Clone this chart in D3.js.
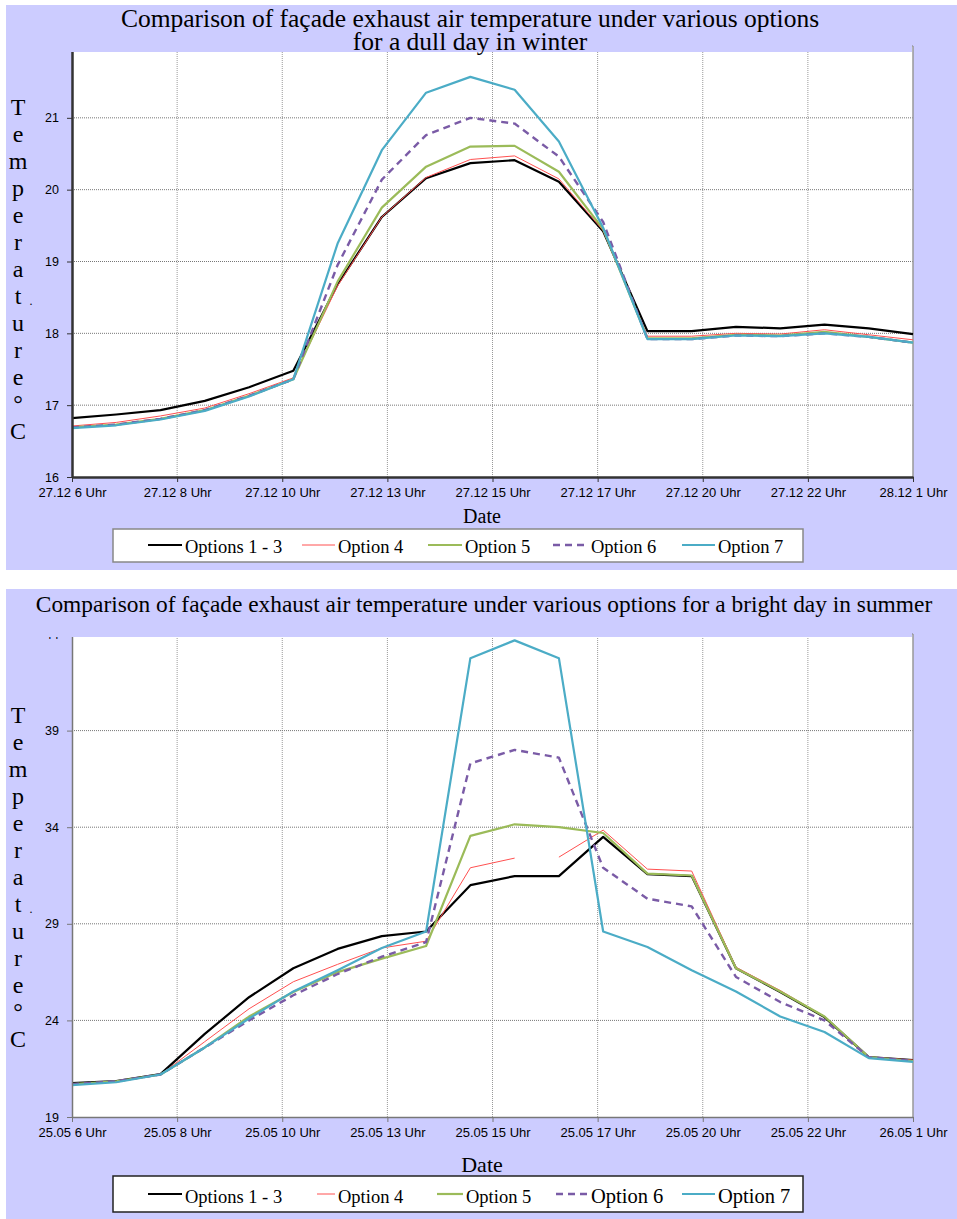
<!DOCTYPE html>
<html>
<head>
<meta charset="utf-8">
<script src="https://cdn.jsdelivr.net/npm/d3@7"></script>
<style>
  body { margin: 0; background: #fff; }
  text { font-family: "Liberation Serif", "Times New Roman", serif; }
  .tick text { font-family: "Liberation Sans", Arial, sans-serif; }
</style>
</head>
<body>
<div id="chart"></div>
<script>
// series names shown in the legends
const seriesNames = ["Options 1 - 3", "Option 4", "Option 5", "Option 6", "Option 7"];

// hourly readings, 6 Uhr to 1 Uhr next day
const hourOffsets = d3.range(20);

// dull day in winter (27.12)
const winterOpt13 = [16.82, 16.87, 16.93, 17.06, 17.25, 17.48, 18.68, 19.62, 20.16, 20.37, 20.41, 20.11, 19.42, 18.03, 18.03, 18.09, 18.07, 18.12, 18.07, 17.99];
const winterOpt4  = [16.71, 16.76, 16.85, 16.96, 17.16, 17.38, 18.66, 19.62, 20.17, 20.42, 20.47, 20.15, 19.43, 17.96, 17.96, 18.00, 17.99, 18.05, 17.98, 17.91];
const winterOpt5  = [16.69, 16.73, 16.81, 16.93, 17.13, 17.36, 18.72, 19.75, 20.32, 20.60, 20.61, 20.25, 19.45, 17.93, 17.93, 17.98, 17.97, 18.02, 17.95, 17.87];
const winterOpt6  = [16.69, 16.73, 16.81, 16.93, 17.13, 17.36, 18.95, 20.14, 20.76, 21.00, 20.92, 20.46, 19.55, 17.92, 17.92, 17.97, 17.96, 18.00, 17.95, 17.87];
const winterOpt7  = [16.68, 16.72, 16.80, 16.92, 17.12, 17.36, 19.25, 20.55, 21.35, 21.57, 21.39, 20.67, 19.47, 17.92, 17.92, 17.97, 17.96, 18.00, 17.95, 17.87];

// bright day in summer (25.05)
const summerOpt13 = [20.76, 20.86, 21.22, 23.30, 25.20, 26.70, 27.70, 28.36, 28.60, 31.00, 31.47, 31.47, 33.50, 31.57, 31.47, 26.70, 25.47, 24.17, 22.10, 21.95];
const summerOpt4  = [20.70, 20.80, 21.20, 22.90, 24.60, 26.00, 26.90, 27.75, 28.10, 31.90, 32.40, 32.45, 33.85, 31.83, 31.73, 26.75, 25.55, 24.20, 22.10, 21.95];
const summerOpt5  = [20.70, 20.85, 21.20, 22.60, 24.20, 25.47, 26.50, 27.20, 27.85, 33.55, 34.15, 34.00, 33.70, 31.60, 31.50, 26.70, 25.50, 24.20, 22.10, 21.90];
const summerOpt6  = [20.70, 20.85, 21.20, 22.60, 24.00, 25.30, 26.40, 27.30, 28.05, 37.30, 38.00, 37.60, 31.90, 30.30, 29.90, 26.25, 24.95, 24.00, 22.10, 21.90];
const summerOpt7  = [20.65, 20.80, 21.20, 22.60, 24.10, 25.50, 26.60, 27.75, 28.60, 42.75, 43.67, 42.75, 28.60, 27.80, 26.60, 25.50, 24.20, 23.40, 22.05, 21.85];
// option 4 summer line has no segment between 16 Uhr and 17 Uhr
const summerOpt4Break = 10;

// y axis ticks
const winterYTicks = [16, 17, 18, 19, 20, 21, 22];
const summerYTicks = [19, 24, 29, 34, 39, 44];

const yLabelLetters = ["T", "e", "m", "p", "e", "r", "a", "t", "u", "r", "e", "°", "C"];

// line styles per series
const styles = [
  { color: "#000000", width: 2.2, dash: null },
  { color: "#FF5050", width: 1, dash: null },
  { color: "#9BBB59", width: 2.2, dash: null },
  { color: "#7A5BA6", width: 2.4, dash: "7,5" },
  { color: "#4BACC6", width: 2.2, dash: null }
];

const W = 957, H = 1219;
const svg = d3.select("#chart").append("svg")
  .attr("width", W).attr("height", H);

function drawPanel(cfg) {
  const g = svg.append("g");
  const left = 72, right = 913;

  // lavender chart area
  g.append("rect")
    .attr("x", 6).attr("y", cfg.panelTop)
    .attr("width", W - 6).attr("height", cfg.panelBottom - cfg.panelTop)
    .attr("fill", "#CCCCFF");

  const start = cfg.start;
  const end = d3.timeHour.offset(start, 19);
  const x = d3.scaleTime().domain([start, end]).range([left, right]);
  const y = d3.scaleLinear().domain(cfg.yDomain).range([cfg.plotBottom, cfg.plotTop]);

  g.append("rect")
    .attr("x", left).attr("y", cfg.plotTop)
    .attr("width", right - left).attr("height", cfg.plotBottom - cfg.plotTop)
    .attr("fill", "#fff");

  // 8 equal label steps over 19 hours
  const xTicks = d3.range(9).map(i => new Date(+start + i * (end - start) / 8));

  // grid
  g.append("g")
    .selectAll("line.vg").data(xTicks.slice(1, -1)).join("line")
    .attr("x1", d => x(d)).attr("x2", d => x(d))
    .attr("y1", cfg.plotTop).attr("y2", cfg.plotBottom)
    .attr("stroke", "#999").attr("stroke-dasharray", "1,1");
  g.append("g")
    .selectAll("line.hg").data(cfg.yTicks.slice(1)).join("line")
    .attr("x1", left).attr("x2", right)
    .attr("y1", d => y(d)).attr("y2", d => y(d))
    .attr("stroke", "#777").attr("stroke-dasharray", "1,1");

  // right border
  g.append("line")
    .attr("x1", right).attr("x2", right)
    .attr("y1", cfg.plotTop).attr("y2", cfg.plotBottom)
    .attr("stroke", "#999").attr("stroke-width", 1.5);

  // series lines
  const line = d3.line()
    .defined(d => d[1] != null)
    .x(d => x(d3.timeHour.offset(start, d[0])))
    .y(d => y(d[1]));

  cfg.series.forEach((vals, i) => {
    const pts = hourOffsets.map((h, k) => [h, vals[k]]);
    let parts = [pts];
    if (cfg.breaks && cfg.breaks[i] != null) {
      const b = cfg.breaks[i];
      parts = [pts.slice(0, b + 1), pts.slice(b + 1)];
    }
    parts.forEach(p => {
      g.append("path")
        .datum(p)
        .attr("d", line)
        .attr("fill", "none")
        .attr("stroke", styles[i].color)
        .attr("stroke-width", styles[i].width)
        .attr("stroke-dasharray", styles[i].dash)
        .attr("stroke-linejoin", "round");
    });
  });

  // y axis
  g.append("g")
    .attr("transform", `translate(${left},0)`)
    .call(d3.axisLeft(y).tickValues(cfg.yTicks).tickFormat(d3.format("d"))
      .tickSize(5).tickPadding(8).tickSizeOuter(0))
    .call(a => a.select(".domain").attr("stroke", cfg.axisColor).attr("stroke-width", cfg.axisWidth))
    .call(a => a.selectAll(".tick line").attr("stroke", cfg.axisColor))
    .call(a => a.selectAll(".tick text").attr("font-size", 12.5).attr("fill", "#000"));

  // x axis
  g.append("g")
    .attr("transform", `translate(0,${cfg.plotBottom})`)
    .call(d3.axisBottom(x).tickValues(xTicks).tickFormat(d3.timeFormat("%d.%m %-H Uhr"))
      .tickSize(5).tickPadding(6).tickSizeOuter(0))
    .call(a => a.select(".domain").attr("stroke", cfg.axisColor).attr("stroke-width", cfg.axisWidth))
    .call(a => a.selectAll(".tick line").attr("stroke", cfg.axisColor))
    .call(a => a.selectAll(".tick text").attr("font-size", 13).attr("fill", "#000"));

  // title band covers the top of the plot area
  g.append("rect")
    .attr("x", 6).attr("y", cfg.panelTop)
    .attr("width", right - 7).attr("height", cfg.titleBottom - cfg.panelTop)
    .attr("fill", "#CCCCFF");

  cfg.title.forEach((t, i) => {
    g.append("text")
      .attr("x", cfg.titleX).attr("y", cfg.titleY[i])
      .attr("text-anchor", "middle")
      .attr("font-size", cfg.titleSize)
      .text(t);
  });

  // stacked y label
  g.selectAll("text.yl").data(yLabelLetters).join("text")
    .attr("x", 18).attr("y", (d, i) => cfg.yLabelTop + i * 27)
    .attr("text-anchor", "middle")
    .attr("font-size", 24)
    .text(d => d);
  g.append("text")
    .attr("x", 31).attr("y", cfg.yLabelTop + 7 * 27 + 1)
    .attr("text-anchor", "middle").attr("font-size", 12)
    .text(".");

  // x label
  g.append("text")
    .attr("x", 482).attr("y", cfg.dateY)
    .attr("text-anchor", "middle")
    .attr("font-size", cfg.dateSize)
    .text("Date");

  // legend
  const lg = cfg.legend;
  g.append("rect")
    .attr("x", lg.x).attr("y", lg.y)
    .attr("width", lg.w).attr("height", lg.h)
    .attr("fill", "#fff")
    .attr("stroke", lg.stroke).attr("stroke-width", 1.5);
  seriesNames.forEach((name, i) => {
    const [x1, x2] = lg.lines[i];
    g.append("line")
      .attr("x1", x1).attr("x2", x2)
      .attr("y1", lg.lineY).attr("y2", lg.lineY)
      .attr("stroke", styles[i].color)
      .attr("stroke-width", styles[i].width)
      .attr("stroke-dasharray", styles[i].dash);
    g.append("text")
      .attr("x", x2 + 3).attr("y", lg.textY)
      .attr("font-size", lg.sizes[i])
      .text(name);
  });
}

drawPanel({
  panelTop: 5, panelBottom: 570,
  plotTop: 46, plotBottom: 477, titleBottom: 52,
  start: new Date(2007, 11, 27, 6),
  yDomain: [16, 22], yTicks: winterYTicks,
  series: [winterOpt13, winterOpt4, winterOpt5, winterOpt6, winterOpt7],
  axisColor: "#333", axisWidth: 2.5,
  title: ["Comparison of façade exhaust air temperature under various options", "for a dull day in winter"],
  titleX: 470, titleY: [27, 50], titleSize: 25.5,
  yLabelTop: 115,
  dateY: 523, dateSize: 20,
  legend: {
    x: 113, y: 529, w: 690, h: 33, stroke: "#888",
    lineY: 545, textY: 553, sizes: [18.5, 18.5, 18.5, 18.5, 18.5],
    lines: [[148, 182], [302, 335], [428, 462], [553, 588], [682, 715]]
  }
});

drawPanel({
  panelTop: 589, panelBottom: 1219,
  plotTop: 634, plotBottom: 1117, titleBottom: 637,
  start: new Date(2007, 4, 25, 6),
  yDomain: [19, 44], yTicks: summerYTicks,
  series: [summerOpt13, summerOpt4, summerOpt5, summerOpt6, summerOpt7],
  breaks: [null, summerOpt4Break, null, null, null],
  axisColor: "#777", axisWidth: 1.5,
  title: ["Comparison of façade exhaust air temperature under various options for a bright day in summer"],
  titleX: 484, titleY: [612], titleSize: 23.4,
  yLabelTop: 723,
  dateY: 1172, dateSize: 22,
  legend: {
    x: 113, y: 1176, w: 690, h: 36, stroke: "#222",
    lineY: 1194, textY: 1203, sizes: [18.5, 18.5, 18.5, 20.5, 20.5],
    lines: [[148, 182], [317, 335], [437, 463], [556, 588], [682, 715]]
  }
});
</script>
</body>
</html>
